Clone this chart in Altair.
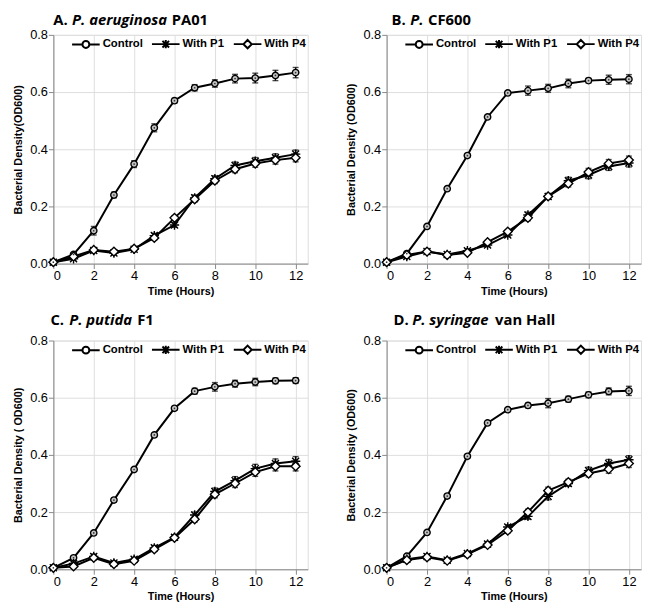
import altair as alt
import pandas as pd

hours = list(range(13))
series_names = ["Control", "With P1", "With P4"]

# Panel A: P. aeruginosa PA01
a_control = [0.005, 0.032, 0.115, 0.240, 0.348, 0.475, 0.570, 0.615, 0.630, 0.647, 0.649, 0.658, 0.668]
a_p1 = [0.005, 0.017, 0.046, 0.037, 0.050, 0.098, 0.135, 0.230, 0.297, 0.343, 0.358, 0.370, 0.383]
a_p4 = [0.005, 0.025, 0.048, 0.042, 0.052, 0.090, 0.160, 0.225, 0.290, 0.330, 0.350, 0.362, 0.370]
a_control_err = [0.002, 0.006, 0.015, 0.010, 0.012, 0.014, 0.008, 0.011, 0.013, 0.015, 0.017, 0.018, 0.018]
a_p1_err = [0.002, 0.005, 0.006, 0.006, 0.006, 0.008, 0.008, 0.010, 0.010, 0.012, 0.013, 0.014, 0.014]
a_p4_err = [0.002, 0.005, 0.006, 0.006, 0.006, 0.008, 0.008, 0.010, 0.010, 0.012, 0.013, 0.014, 0.014]

# Panel B: P. CF600
b_control = [0.005, 0.035, 0.130, 0.262, 0.378, 0.513, 0.597, 0.605, 0.613, 0.630, 0.640, 0.643, 0.645]
b_p1 = [0.005, 0.025, 0.042, 0.032, 0.045, 0.065, 0.100, 0.170, 0.235, 0.290, 0.310, 0.340, 0.352]
b_p4 = [0.005, 0.030, 0.042, 0.030, 0.038, 0.075, 0.112, 0.160, 0.235, 0.280, 0.320, 0.350, 0.362]
b_control_err = [0.002, 0.005, 0.006, 0.006, 0.006, 0.006, 0.006, 0.016, 0.014, 0.015, 0.008, 0.016, 0.016]
b_p1_err = [0.002, 0.005, 0.006, 0.006, 0.006, 0.006, 0.006, 0.010, 0.010, 0.012, 0.013, 0.014, 0.014]
b_p4_err = [0.002, 0.005, 0.006, 0.006, 0.006, 0.006, 0.006, 0.010, 0.010, 0.012, 0.013, 0.014, 0.014]

# Panel C: P. putida F1
c_control = [0.005, 0.040, 0.127, 0.242, 0.349, 0.470, 0.563, 0.623, 0.638, 0.649, 0.655, 0.659, 0.660]
c_p1 = [0.005, 0.020, 0.045, 0.022, 0.035, 0.075, 0.112, 0.190, 0.272, 0.310, 0.352, 0.370, 0.378]
c_p4 = [0.005, 0.010, 0.040, 0.018, 0.030, 0.070, 0.110, 0.175, 0.262, 0.300, 0.340, 0.360, 0.360]
c_control_err = [0.002, 0.005, 0.006, 0.006, 0.006, 0.006, 0.006, 0.010, 0.015, 0.012, 0.013, 0.010, 0.010]
c_p1_err = [0.002, 0.005, 0.008, 0.006, 0.006, 0.008, 0.008, 0.010, 0.012, 0.014, 0.015, 0.016, 0.016]
c_p4_err = [0.002, 0.005, 0.008, 0.006, 0.006, 0.008, 0.008, 0.010, 0.012, 0.014, 0.015, 0.016, 0.016]

# Panel D: P. syringae van Hall
d_control = [0.005, 0.046, 0.129, 0.256, 0.395, 0.512, 0.558, 0.573, 0.581, 0.595, 0.610, 0.622, 0.624]
d_p1 = [0.005, 0.035, 0.045, 0.032, 0.055, 0.088, 0.148, 0.185, 0.255, 0.300, 0.345, 0.370, 0.383]
d_p4 = [0.005, 0.032, 0.042, 0.030, 0.052, 0.085, 0.135, 0.200, 0.275, 0.305, 0.335, 0.350, 0.370]
d_control_err = [0.002, 0.005, 0.006, 0.006, 0.006, 0.006, 0.006, 0.008, 0.016, 0.010, 0.010, 0.012, 0.016]
d_p1_err = [0.002, 0.005, 0.008, 0.008, 0.006, 0.008, 0.008, 0.010, 0.012, 0.010, 0.012, 0.014, 0.014]
d_p4_err = [0.002, 0.005, 0.008, 0.008, 0.006, 0.008, 0.008, 0.010, 0.012, 0.010, 0.012, 0.014, 0.014]

panel_keys = ["A", "B", "C", "D"]
panel_values = {
    "A": (a_control, a_p1, a_p4, a_control_err, a_p1_err, a_p4_err),
    "B": (b_control, b_p1, b_p4, b_control_err, b_p1_err, b_p4_err),
    "C": (c_control, c_p1, c_p4, c_control_err, c_p1_err, c_p4_err),
    "D": (d_control, d_p1, d_p4, d_control_err, d_p1_err, d_p4_err),
}
panel_titles = {
    "A": ["A.", "P. aeruginosa", "PA01"],
    "B": ["B.", "P.", "CF600"],
    "C": ["C.", "P. putida", "F1"],
    "D": ["D.", "P. syringae", "van Hall"],
}
title_offsets = {
    "A": [0, 19, 120],
    "B": [5, 24, 42],
    "C": [-3, 16, 85],
    "D": [7, 26, 110],
}
title_y = {"A": -15, "B": -15, "C": -21, "D": -21}
y_titles = {
    "A": "Bacterial Density(OD600)",
    "B": "Bacterial Density (OD600)",
    "C": "Bacterial Density ( OD600)",
    "D": "Bacterial Density (OD600)",
}

rows = []
for key in panel_keys:
    vals = panel_values[key]
    for s_i, name in enumerate(series_names):
        for h, v, e in zip(hours, vals[s_i], vals[s_i + 3]):
            rows.append({"panel": key, "hour": h, "series": name, "value": v,
                         "lo": v - e, "hi": v + e})
df = pd.DataFrame(rows)

marker_paths = [
    "M-1,0A1,1 0 1,0 1,0A1,1 0 1,0 -1,0Z",
    "M-1,0L1,0M-0.75,-0.75L0.75,0.75M-0.75,0.75L0.75,-0.75M0,-1L0,1",
    "M0,-1L1,0L0,1L-1,0Z",
]
marker_sizes = [42, 90, 80]
legend_paths = [
    "M-1,0L-0.25,0M0.25,0L1,0M-0.25,0A0.25,0.25 0 1,0 0.25,0A0.25,0.25 0 1,0 -0.25,0Z",
    "M-1,0L1,0M-0.24,-0.24L0.24,0.24M-0.24,0.24L0.24,-0.24M0,-0.3L0,0.3",
    "M-1,0L-0.3,0M0.3,0L1,0M0,-0.3L0.3,0L0,0.3L-0.3,0Z",
]
fills = ["#c4c4c4", "transparent", "white"]

AXIS_FONT = "Liberation Sans"
TITLE_FONT = "Open Sans"
W, H = 258, 232


def panel(key):
    d = df[df["panel"] == key]
    base = alt.Chart(d)
    x = alt.X("hour:Q", title="Time (Hours)",
              scale=alt.Scale(domain=[0, 12.6], nice=False, zero=False),
              axis=alt.Axis(values=hours,
                            labelExpr="datum.value % 2 == 0 ? datum.label : ''",
                            tickSize={"condition": {"test": "datum.value % 2 == 0", "value": 5}, "value": 3},
                            labelFontSize=13, labelPadding=1, titlePadding=3))
    y = alt.Y("value:Q", title=y_titles[key],
              scale=alt.Scale(domain=[0, 0.8], nice=False),
              axis=alt.Axis(values=[i / 10 for i in range(9)], format=".1f",
                            labelExpr="round(datum.value*10) % 2 == 0 ? datum.label : ''",
                            tickSize={"condition": {"test": "round(datum.value*10) % 2 == 0", "value": 5}, "value": 3},
                            labelFontSize=13, labelPadding=1, titlePadding=6))
    lines = base.mark_line(color="black", strokeWidth=2).encode(x=x, y=y, detail="series:N")
    bars = base.mark_rule(color="black", strokeWidth=1.4).encode(x="hour:Q", y="lo:Q", y2="hi:Q")
    caps = base.transform_fold(["lo", "hi"], as_=["end", "v"]).mark_tick(
        orient="horizontal", size=6, thickness=1.4, color="black").encode(x="hour:Q", y="v:Q")
    point_layers = []
    for name, path, fill, size in zip(series_names, marker_paths, fills, marker_sizes):
        point_layers.append(
            base.transform_filter(alt.datum.series == name).mark_point(
                shape=path, fill=fill, stroke="black", strokeWidth=1.4, size=size, opacity=1
            ).encode(x="hour:Q", y="value:Q")
        )
    dots = base.transform_filter(alt.datum.series == "Control").mark_point(
        shape="circle", size=3, filled=True, color="#333333", opacity=1).encode(x="hour:Q", y="value:Q")
    leg = alt.Legend(orient="none", legendX=18, legendY=-6, direction="horizontal", columns=3,
                     title=None, labelFont=AXIS_FONT, labelFontWeight="bold", labelFontSize=11.5,
                     labelColor="black", symbolSize=784, symbolStrokeWidth=2,
                     symbolStrokeColor="black", symbolFillColor="white", labelOffset=2,
                     columnPadding=5, symbolOpacity=1)
    legend_layer = base.transform_filter("false").mark_point(
        filled=False, color="black", strokeWidth=2, opacity=1, size=784).encode(
        x="hour:Q", y="value:Q",
        shape=alt.Shape("series:N", scale=alt.Scale(domain=series_names, range=legend_paths), legend=leg),
    )
    parts = panel_titles[key]
    offs = title_offsets[key]
    texts = []
    for i, (txt, off) in enumerate(zip(parts, offs)):
        texts.append(
            alt.Chart(pd.DataFrame({"t": [txt]})).mark_text(
                align="left", baseline="middle", font=TITLE_FONT, fontWeight="bold",
                fontStyle="italic" if i == 1 else "normal", fontSize=15, color="black"
            ).encode(text="t:N", x=alt.value(off), y=alt.value(title_y[key]))
        )
    layer = alt.layer(lines, bars, caps, *point_layers, dots, legend_layer, *texts).properties(
        width=W, height=H)
    return layer


def row(k1, k2):
    return alt.hconcat(panel(k1), panel(k2), spacing=37).resolve_scale(
        shape="independent").resolve_legend(shape="independent")


chart = alt.vconcat(row("A", "B"), row("C", "D"), spacing=15).resolve_scale(
    shape="independent").resolve_legend(shape="independent").properties(
    padding={"left": 4, "top": 0, "right": 0, "bottom": 0}
).configure_view(stroke=None).configure_axis(
    domainColor="black", domainWidth=2, tickColor="black", tickWidth=1.5,
    labelFont=AXIS_FONT, labelFontSize=13, labelColor="black",
    titleFont=AXIS_FONT, titleFontSize=11, titleFontWeight="bold", titleColor="black",
    grid=False,
).configure(background="white")

chart.save("out.html", embed_options={"renderer": "svg", "actions": False})
